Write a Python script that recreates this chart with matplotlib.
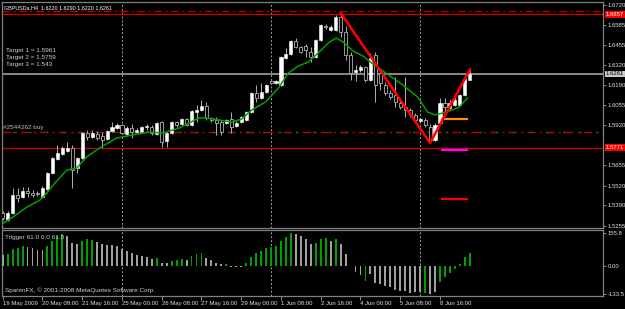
import matplotlib.pyplot as plt
import numpy as np

plt.rcParams['font.family'] = ['Liberation Sans', 'DejaVu Sans']

# GBPUSD H4 candles, bar 0 = 19 May 2009 00:00
opens = [1.5341, 1.5293, 1.5339, 1.5458, 1.5445, 1.5485, 1.5472, 1.5472, 1.5445, 1.5498,
         1.5604, 1.5697, 1.5730, 1.5750, 1.5770, 1.5637, 1.5704, 1.5869, 1.5843, 1.5863,
         1.5850, 1.5830, 1.5883, 1.5902, 1.5922, 1.5863, 1.5902, 1.5876, 1.5876, 1.5909,
         1.5909, 1.5863, 1.5942, 1.5817, 1.5869, 1.5942, 1.5929, 1.5962, 1.5922, 1.6008,
         1.6022, 1.6048, 1.5969, 1.5956, 1.5942, 1.5936, 1.5962, 1.5916, 1.5942, 1.5956,
         1.6008, 1.6135, 1.6101, 1.6141, 1.6214, 1.6201, 1.6188, 1.6367, 1.6393, 1.6479,
         1.6440, 1.6446, 1.6407, 1.6373, 1.6486, 1.6579, 1.6552, 1.6552, 1.6639, 1.6539,
         1.6387, 1.6274, 1.6287, 1.6307, 1.6221, 1.6387, 1.6267, 1.6188, 1.6135, 1.6121,
         1.6068, 1.6042, 1.6022, 1.5989, 1.5949, 1.5956, 1.5909, 1.5823, 1.5936, 1.6068,
         1.6035, 1.6055, 1.6055, 1.6121, 1.6220]
highs = [1.5352, 1.5352, 1.5505, 1.5505, 1.5512, 1.5512, 1.5492, 1.5485, 1.5518, 1.5611,
         1.5711, 1.5790, 1.5783, 1.5810, 1.5790, 1.5711, 1.5876, 1.5889, 1.5889, 1.5883,
         1.5876, 1.5889, 1.5942, 1.5936, 1.5929, 1.5916, 1.5929, 1.5902, 1.5916, 1.5929,
         1.5922, 1.5942, 1.5949, 1.5876, 1.5949, 1.5949, 1.5969, 1.5969, 1.6022, 1.6055,
         1.6088, 1.6075, 1.5975, 1.5975, 1.5956, 1.5962, 1.6008, 1.5949, 1.5982, 1.6015,
         1.6141, 1.6188, 1.6201, 1.6194, 1.6221, 1.6221, 1.6380, 1.6433, 1.6486, 1.6499,
         1.6446, 1.6460, 1.6440, 1.6493, 1.6592, 1.6592, 1.6585, 1.6652, 1.6665, 1.6579,
         1.6407, 1.6320, 1.6320, 1.6314, 1.6400, 1.6407, 1.6300, 1.6208, 1.6155, 1.6241,
         1.6088, 1.6241, 1.6035, 1.6002, 1.5969, 1.5969, 1.5929, 1.5936, 1.6101, 1.6101,
         1.6088, 1.6108, 1.6128, 1.6261, 1.6290]
lows = [1.5293, 1.5286, 1.5332, 1.5412, 1.5439, 1.5445, 1.5445, 1.5452, 1.5439, 1.5492,
        1.5597, 1.5691, 1.5724, 1.5744, 1.5505, 1.5604, 1.5697, 1.5823, 1.5836, 1.5823,
        1.5770, 1.5823, 1.5876, 1.5896, 1.5863, 1.5856, 1.5836, 1.5869, 1.5869, 1.5889,
        1.5856, 1.5856, 1.5777, 1.5777, 1.5863, 1.5909, 1.5922, 1.5916, 1.5916, 1.5942,
        1.6015, 1.5956, 1.5942, 1.5856, 1.5856, 1.5929, 1.5869, 1.5909, 1.5936, 1.5949,
        1.6002, 1.6075, 1.6095, 1.6135, 1.6194, 1.6194, 1.6181, 1.6360, 1.6387, 1.6433,
        1.6400, 1.6373, 1.6340, 1.6367, 1.6479, 1.6559, 1.6546, 1.6546, 1.6506, 1.6353,
        1.6221, 1.6214, 1.6274, 1.6208, 1.6214, 1.6075, 1.6155, 1.6121, 1.6095, 1.6042,
        1.6028, 1.5975, 1.5975, 1.5942, 1.5942, 1.5909, 1.5803, 1.5817, 1.5929, 1.6008,
        1.6028, 1.6048, 1.6048, 1.6115, 1.6220]
closes = [1.5306, 1.5339, 1.5458, 1.5439, 1.5485, 1.5472, 1.5458, 1.5465, 1.5505, 1.5604,
          1.5704, 1.5737, 1.5770, 1.5770, 1.5624, 1.5704, 1.5869, 1.5843, 1.5869, 1.5836,
          1.5823, 1.5883, 1.5909, 1.5922, 1.5869, 1.5902, 1.5876, 1.5889, 1.5909, 1.5916,
          1.5869, 1.5936, 1.5810, 1.5869, 1.5942, 1.5922, 1.5962, 1.5922, 1.6015, 1.6022,
          1.6048, 1.5969, 1.5956, 1.5936, 1.5876, 1.5956, 1.5909, 1.5936, 1.5975, 1.6008,
          1.6135, 1.6101, 1.6141, 1.6188, 1.6201, 1.6214, 1.6373, 1.6393, 1.6479, 1.6440,
          1.6407, 1.6420, 1.6373, 1.6486, 1.6585, 1.6572, 1.6572, 1.6639, 1.6539, 1.6387,
          1.6267, 1.6287, 1.6307, 1.6221, 1.6367, 1.6188, 1.6201, 1.6135, 1.6108, 1.6075,
          1.6042, 1.6022, 1.5989, 1.5956, 1.5962, 1.5922, 1.5823, 1.5922, 1.6068, 1.6042,
          1.6068, 1.6088, 1.6121, 1.6230, 1.6261]

# green moving average, read at points along the line
ma_bar = [-0.5, 2.1, 4.9, 7.5, 8.9, 10.5, 12.9, 14.9, 16.9, 19.5, 22.9, 26.1, 29.5, 32.1,
          35.5, 39.5, 40.9, 43.5, 46.1, 48.1, 50.1, 52.9, 55.5, 57.5, 59.5, 61.5, 63.5,
          65.5, 67.1, 68.5, 70.5, 72.5, 74.5, 77.1, 80.5, 83.5, 85.5, 87.1, 88.5, 90.5,
          91.9, 93.5]
ma_val = [1.5259, 1.5313, 1.5379, 1.5425, 1.5472, 1.5538, 1.5624, 1.5637, 1.5711, 1.5770,
          1.5836, 1.5856, 1.5876, 1.5869, 1.5902, 1.5969, 1.5969, 1.5956, 1.5942, 1.5962,
          1.6022, 1.6075, 1.6168, 1.6267, 1.6314, 1.6340, 1.6400, 1.6466, 1.6499, 1.6473,
          1.6413, 1.6380, 1.6327, 1.6267, 1.6188, 1.6108, 1.6008, 1.5989, 1.6002, 1.6022,
          1.6042, 1.6101]

# red zigzag
zz_bar = [68, 86, 94]
zz_val = [1.6665, 1.5803, 1.6290]

# target levels
targets = [1.5961, 1.5759, 1.543]
target_colors = ['#ff8c00', '#ff00ff', '#ff0000']
target_from, target_to = 88.5, 93.5

bid = 1.6261
order_price = 1.5879
stop_line = 1.5771
top_line = 1.6657
top_dashdot = 1.6678

# Trigger histogram
trigger = [52, 54, 78, 86, 96, 91, 86, 75, 75, 94,
           119, 143, 150, 141, 110, 102, 119, 125, 122, 111,
           103, 99, 99, 96, 78, 70, 60, 52, 49, 44,
           33, 36, 13, 13, 24, 28, 33, 28, 47, 55,
           63, 39, 28, 16, 8, 9, -3, -3, -4, 16,
           44, 60, 70, 83, 88, 92, 119, 138, 155.8, 150,
           140, 128, 102, 107, 127, 130, 119, 127, 103, 56,
           -2, -27, -42, -69, -38, -78, -86, -94, -100, -113,
           -116, -116, -125, -121, -120, -128, -133.5, -121, -74, -50,
           -31, -14, 8, 41, 61]
trig_col = ("sggggssssg" "gggsssgggs" "ssssssssss" "sgssgggsgg"
            "gssssgsssg" "gggggggggs" "sssgggsgss" "sssgssssss"
            "sssssgssgg" "ggggg")

date_pos = [0, 8, 16, 24, 32, 40, 48, 56, 64, 72, 80, 88]
date_labels = ['19 May 2009', '20 May 08:00', '21 May 16:00', '25 May 00:00',
               '26 May 08:00', '27 May 16:00', '29 May 00:00', '1 Jun 08:00',
               '2 Jun 16:00', '4 Jun 00:00', '5 Jun 08:00', '8 Jun 16:00']
week_starts = [24, 54, 84]
price_ticks = [1.6720, 1.6585, 1.6455, 1.6320, 1.6190, 1.6055, 1.5920,
               1.5655, 1.5520, 1.5390, 1.5255]

fs = 4.6
fs_axis = 4.3
grey = '#808080'
W, H = 625, 309
fig = plt.figure(figsize=(W / 100, H / 100), dpi=100, facecolor='black')


def box(x0, y0, x1, y1):
    return [x0 / W, 1 - y1 / H, (x1 - x0) / W, (y1 - y0) / H]


ax = fig.add_axes(box(2, 2, 603, 228), facecolor='black')
ax2 = fig.add_axes(box(2, 230, 603, 296), facecolor='black', sharex=ax)

x = np.arange(len(opens))
o, h, l, c = map(np.array, (opens, highs, lows, closes))
up = c >= o
ax.vlines(x, l, h, color='#b0b0b0', lw=0.7, zorder=3)
body_lo = np.minimum(o, c)
body_h = np.maximum(np.abs(c - o), 0.0003)
ax.bar(x[up], body_h[up], bottom=body_lo[up], width=0.62, color='white',
       edgecolor='white', lw=0.4, zorder=4)
ax.bar(x[~up], body_h[~up], bottom=body_lo[~up], width=0.62, color='black',
       edgecolor='#b0b0b0', lw=0.6, zorder=4)

ax.plot(ma_bar, ma_val, color='#00a000', lw=1.1, zorder=5)
ax.plot(zz_bar, zz_val, color='#ff0000', lw=1.8, zorder=6)

for t, col in zip(targets, target_colors):
    ax.plot([target_from, target_to], [t, t], color=col, lw=1.6, zorder=5)

ax.axhline(bid, color='#a0a0a0', lw=1.2, zorder=2)
ax.axhline(stop_line, color='#d00000', lw=0.9, zorder=2)
ax.axhline(top_line, color='#d00000', lw=0.9, zorder=2)
ax.axhline(top_dashdot, color='#c00000', lw=0.9, ls=(0, (6, 3, 1.5, 3)), zorder=2)
ax.axhline(order_price, color='#c00000', lw=1.0, ls=(0, (6, 3, 1.5, 3)), zorder=2)
ax.axhline(order_price, color='#008000', lw=1.0, ls=(4.5, (1.5, 10.5)), zorder=2)

for a in (ax, ax2):
    for wk in week_starts:
        a.axvline(wk, color='#a0a0a0', lw=0.7, ls=(0, (2, 2)), zorder=1)

ax.set_xlim(-0.14, 120.8)
ax.set_ylim(1.52396, 1.67379)

ax.text(0.004, 0.985, 'GBPUSDa,H4  1.6220 1.6290 1.6220 1.6261', transform=ax.transAxes,
        color='white', fontsize=3.9, va='top')
for k, t in enumerate(targets):
    ax.text(0.007, 0.787 - k * 0.032, 'Target %d = %s' % (k + 1, t), transform=ax.transAxes,
            color='#d0d0d0', fontsize=fs, va='center')
ax.text(0.008, order_price + 0.0025, '#2544262 buy', color='#c0c0c0', fontsize=fs,
        va='center')

ax.yaxis.tick_right()
ax.set_yticks(price_ticks)
ax.set_yticklabels(['%.4f' % p for p in price_ticks])
ax.tick_params(axis='y', colors='#a0a0a0', labelcolor='#e0e0e0', labelsize=fs_axis,
               length=2, width=0.6, pad=1.2)
ax.tick_params(axis='x', bottom=False, labelbottom=False)
for s in ax.spines.values():
    s.set_color(grey)
    s.set_linewidth(0.9)

for lvl, fc, tc in [(top_line, '#ff0000', '#ffffff'), (bid, '#c8c8c8', '#000000'),
                    (stop_line, '#ff0000', '#ffffff')]:
    ax.text(1.0045, lvl, '%.4f' % lvl, transform=ax.get_yaxis_transform(), color=tc,
            fontsize=fs_axis, va='center', ha='left',
            bbox=dict(boxstyle='square,pad=0.15', fc=fc, ec='none'))

cols = ['#00a000' if ch == 'g' else '#a0a0a0' for ch in trig_col]
ax2.bar(x, trigger, width=0.38, color=cols, zorder=3)
ax2.set_ylim(-141, 169)
ax2.yaxis.tick_right()
ax2.set_yticks([155.8, 0, -133.5])
ax2.set_yticklabels(['155.8', '0.00', '-133.5'])
ax2.tick_params(axis='y', colors='#a0a0a0', labelcolor='#e0e0e0', labelsize=fs_axis,
                length=2, width=0.6, pad=1.2)
ax2.set_xticks(date_pos)
ax2.set_xticklabels(date_labels, ha='left')
ax2.tick_params(axis='x', colors='#a0a0a0', labelcolor='#e0e0e0', labelsize=4.3,
                length=3, width=0.6, pad=0.5)
for s in ax2.spines.values():
    s.set_color(grey)
    s.set_linewidth(0.9)
ax2.text(0.005, 0.93, 'Trigger 61.0 0.0 61.0', transform=ax2.transAxes, color='#d0d0d0',
         fontsize=fs, va='top')
ax2.text(0.005, 0.05, 'SparenFX, \u00a9 2001-2008 MetaQuotes Software Corp.',
         transform=ax2.transAxes, color='#d0d0d0', fontsize=fs, va='bottom')

fig.savefig('out.png', dpi=100, facecolor='black')
